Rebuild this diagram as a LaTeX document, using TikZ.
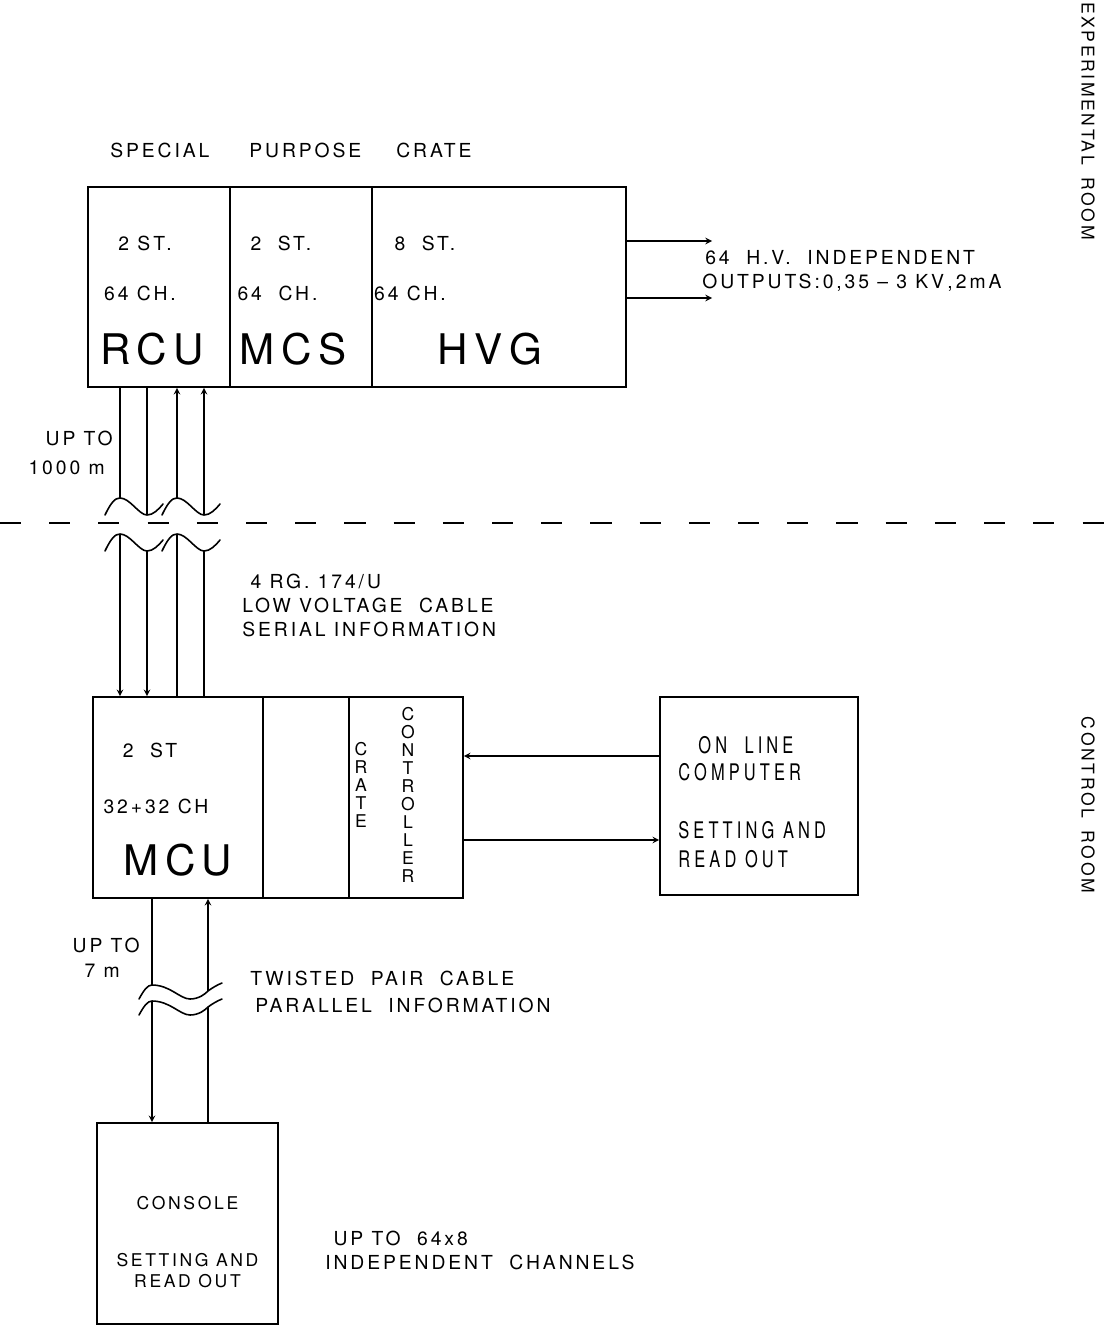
\documentclass[tikz,border=0pt]{standalone}
\usepackage{fontspec}
\setmainfont{TeX Gyre Heros}[LetterSpace=15]
\newfontfamily\narrowfont{TeX Gyre Heros}[FakeStretch=0.72,LetterSpace=18]
\usetikzlibrary{arrows,positioning,calc}

\begin{document}
\begin{tikzpicture}[
    slot/.style={draw,line width=0.9pt,minimum width=#1,minimum height=4cm,inner sep=0pt},
    txt/.style={font=\fontsize{11}{13.6}\selectfont,inner sep=0pt},
    big/.style={font=\fontsize{24}{28}\selectfont,inner sep=0pt},
    vert/.style={font=\fontsize{10}{10.2}\selectfont,align=center,inner sep=0pt},
    room/.style={font=\fontsize{10}{12}\selectfont,inner sep=0pt,rotate=-90},
    cable/.style={line width=0.7pt},
    arrow/.style={->,>=stealth,line width=0.7pt},
    wave/.style={line width=0.9pt,line cap=round},
    divider/.style={line width=0.8pt,dash pattern=on 12pt off 16pt}
  ]
  \useasboundingbox (0,0) rectangle (22.28,-26.54);

  % Special purpose crate (experimental room)
  \node[txt,anchor=west] (spc) at (2.2,-3.0) {SPECIAL\hspace{0.8cm}PURPOSE\hspace{0.7cm}CRATE};
  \node[slot=2.84cm] (rcu) at (3.18,-5.74) {};
  \node[slot=2.84cm] (mcs) at (6.02,-5.74) {};
  \node[slot=5.08cm] (hvg) at (9.98,-5.74) {};

  \node[txt] (rcust) at (2.9,-4.86) {2\ S\,T.};
  \node[txt] (rcuch) at (2.8,-5.86) {64 CH.};
  \node[big] (rcuname) at (3.04,-6.98) {RCU};
  \node[txt] (mcsst) at (5.62,-4.86) {2\ \ ST.};
  \node[txt] (mcsch) at (5.55,-5.86) {64\ \ CH.};
  \node[big] (mcsname) at (5.86,-6.98) {MCS};
  \node[txt] (hvgst) at (8.5,-4.86) {8\ \ ST.};
  \node[txt] (hvgch) at (8.2,-5.86) {64 CH.};
  \node[big] (hvgname) at (9.8,-6.98) {H\,V\,G};

  % HV outputs
  \coordinate (hv1) at (14.24,-4.82);
  \coordinate (hv2) at (14.24,-5.96);
  \draw[arrow] (hvg.east |- hv1) -- (hv1);
  \draw[arrow] (hvg.east |- hv2) -- (hv2);
  \node[txt,anchor=west] (hvout) at (14.1,-5.16) {64\ \ H.V.\ \ INDEPENDENT};
  \node[txt,anchor=west] (hvval) at (14.04,-5.66) {OUTPUTS:0,35 -- 3 KV\,,\,2mA};

  % Long cables with break
  \coordinate (u1) at (2.4,-9.96);
  \coordinate (u2) at (2.94,-10.3);
  \coordinate (u3) at (3.54,-9.96);
  \coordinate (u4) at (4.08,-10.3);
  \coordinate (l1) at (2.4,-10.68);
  \coordinate (l2) at (2.94,-11.02);
  \coordinate (l3) at (3.54,-10.68);
  \coordinate (l4) at (4.08,-11.02);
  \draw[cable] (u1 |- rcu.south) -- (u1);
  \draw[cable] (u2 |- rcu.south) -- (u2);
  \draw[arrow] (u3) -- (u3 |- rcu.south);
  \draw[arrow] (u4) -- (u4 |- rcu.south);
  \foreach \dx/\dy in {0/0,1.14/0,0/-0.72,1.14/-0.72}
    \draw[wave,shift={(\dx,\dy)}] (2.1,-10.3) .. controls (2.22,-10.05) and (2.3,-9.96) .. (2.4,-9.96)
      .. controls (2.6,-9.96) and (2.78,-10.3) .. (2.94,-10.3)
      .. controls (3.06,-10.3) and (3.16,-10.2) .. (3.26,-10.08);
  \node[txt,anchor=east] (upto) at (2.26,-8.76) {UP TO};
  \node[txt,anchor=east] (len) at (2.1,-9.36) {1000 m};

  % Room border
  \draw[divider] (0,-10.46) -- (22.28,-10.46);
  \node[room] (exproom) at (21.76,-2.42) {EXPERIMENTAL\hspace{0.25cm}ROOM};
  \node[room] (ctlroom) at (21.76,-16.1) {CONTROL\hspace{0.25cm}ROOM};

  \node[txt,anchor=north west,align=left] (rg) at (4.84,-11.48)
    {\ 4 RG.~174/U\\LOW VOLTAGE\ \ CABLE\\SERIAL INFORMATION};

  % MCU crate (control room)
  \node[slot=3.4cm,minimum height=4.02cm] (mcu) at (3.56,-15.95) {};
  \node[slot=1.72cm,minimum height=4.02cm] (blank) at (6.12,-15.95) {};
  \node[slot=2.28cm,minimum height=4.02cm] (ctrl) at (8.12,-15.95) {};
  \draw[arrow] (l1) -- (l1 |- mcu.north);
  \draw[arrow] (l2) -- (l2 |- mcu.north);
  \draw[cable] (l3) -- (l3 |- mcu.north);
  \draw[cable] (l4) -- (l4 |- mcu.north);

  \node[txt] (mcust) at (3.0,-15.0) {2\ \ ST};
  \node[txt] (mcuch) at (3.12,-16.12) {32+32 CH};
  \node[big] (mcuname) at (3.56,-17.2) {MCU};
  \node[vert] (crate) at (7.22,-15.7) {C\\R\\A\\T\\E};
  \node[vert] (contr) at (8.16,-15.9) {C\\O\\N\\T\\R\\O\\L\\L\\E\\R};

  % On line computer
  \node[slot=3.96cm,minimum height=3.96cm] (oc) at (15.18,-15.92) {};
  \node[align=left,inner sep=0pt,anchor=north west,
        font=\narrowfont\fontsize{13}{15.3}\selectfont] (octxt) at (13.56,-14.72)
    {\hspace{0.4cm}ON\ \ LINE\\COMPUTER\\[18pt]SETTING AND\\[1pt]READ OUT};
  \draw[arrow] ([yshift=0.8cm]oc.west) -- ([yshift=0.8cm]oc.west -| ctrl.east);
  \draw[arrow] ([yshift=-0.88cm]oc.west -| ctrl.east) -- ([yshift=-0.88cm]oc.west);

  % Short cables to console
  \coordinate (m1) at (3.04,-19.7);
  \coordinate (m2) at (4.16,-19.82);
  \coordinate (k1) at (3.04,-20.02);
  \coordinate (k2) at (4.16,-20.14);
  \draw[cable] (m1 |- mcu.south) -- (m1);
  \draw[arrow] (m2) -- (m2 |- mcu.south);
  \foreach \dy in {0,-0.32}
    \draw[wave,shift={(0,\dy)}] (2.78,-19.98) .. controls (2.88,-19.8) and (2.95,-19.7) .. (3.04,-19.7)
      .. controls (3.4,-19.7) and (3.6,-19.98) .. (3.8,-19.98)
      .. controls (3.98,-19.98) and (4.1,-19.88) .. (4.16,-19.82)
      .. controls (4.24,-19.76) and (4.34,-19.7) .. (4.44,-19.66);
  \node[txt,anchor=east] (upto2) at (2.8,-18.9) {UP TO};
  \node[txt,anchor=east] (len2) at (2.4,-19.42) {7 m};
  \node[txt,anchor=west] (tw) at (5.0,-19.56) {TWISTED\ \ PAIR\ \ CABLE};
  \node[txt,anchor=west] (par) at (5.1,-20.1) {PARALLEL\ \ INFORMATION};

  % Console
  \node[slot=3.62cm,minimum height=4.02cm] (console) at (3.75,-24.47) {};
  \draw[arrow] (k1) -- (k1 |- console.north);
  \draw[cable] (k2) -- (k2 |- console.north);
  \node[align=center,inner sep=0pt,font=\fontsize{10}{12}\selectfont] (consoletxt) at (3.75,-24.84)
    {CONSOLE\\[0.72cm]SETTING AND\\READ OUT};
  \node[txt,anchor=west,align=left] (chan) at (6.5,-25.0)
    {\ UP TO\ \ 64x8\\INDEPENDENT\ \ CHANNELS};
\end{tikzpicture}
\end{document}
